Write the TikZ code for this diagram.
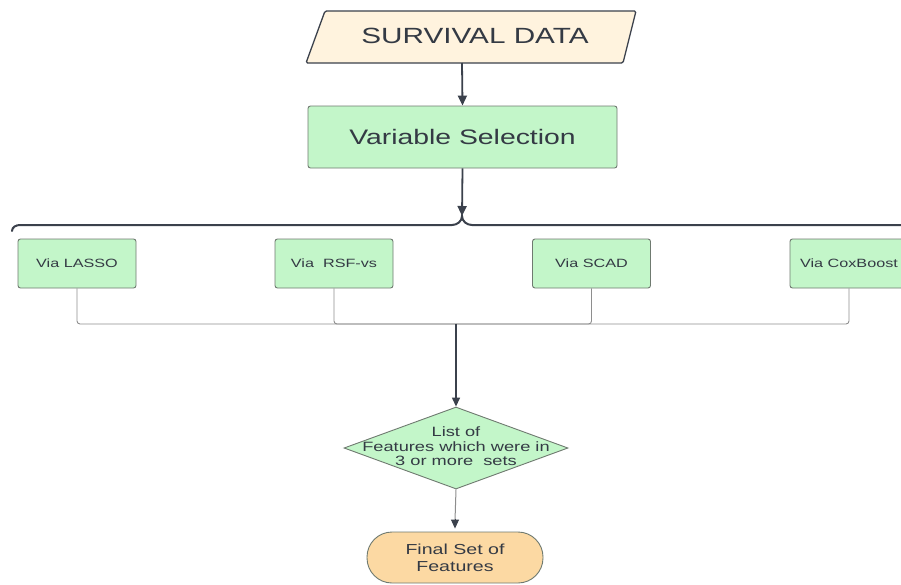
\documentclass[tikz,border=0pt]{standalone}
\usepackage{fontspec}
\setmainfont{Liberation Sans}
\newfontfamily\wide{Liberation Sans}[FakeStretch=1.35]
\usetikzlibrary{arrows.meta,shapes.geometric}
\definecolor{txt}{HTML}{343A44}
\definecolor{dark}{HTML}{3B414C}
\definecolor{gfill}{HTML}{C3F6C9}
\definecolor{gborder}{HTML}{6F7A70}
\definecolor{pfill}{HTML}{FFF3DE}
\definecolor{ofill}{HTML}{FCD9A3}
\definecolor{conn}{HTML}{8E8E8E}
\tikzset{
  gbox/.style={draw=gborder, line width=0.9pt, fill=gfill, rounded corners=2.5pt, minimum width=118pt, minimum height=49pt, inner sep=0pt, text=txt, font=\wide\fontsize{12}{14}\selectfont},
  darrow/.style={draw=dark, line width=1.8pt, -{Triangle[length=10pt,width=9pt]}},
  thinarrow/.style={draw=dark, line width=1.2pt, -{Triangle[length=9pt,width=8pt]}},
  connline/.style={draw=conn, line width=0.9pt, rounded corners=3pt},
}
\begin{document}
\begin{tikzpicture}[x=1pt,y=-1pt]
\useasboundingbox (0,0) rectangle (901,584);
\clip (0,0) rectangle (901,584);
\fill[white] (0,0) rectangle (901,584);

% Survival data parallelogram
\draw[draw=dark, line width=1.3pt, fill=pfill, rounded corners=1.5pt]
  (325,11) -- (636,11) -- (623,63) -- (306,63) -- cycle;
\node[text=txt, font=\wide\fontsize{22}{26}\selectfont, inner sep=0pt] (data) at (475,36) {SURVIVAL DATA};
\coordinate (databot) at (462,63);

% Variable selection
\node[draw=gborder, line width=0.9pt, fill=gfill, rounded corners=2.5pt, minimum width=309pt, minimum height=62pt, inner sep=0pt, text=txt, font=\wide\fontsize{21}{25}\selectfont] (vs) at (462.5,137) {Variable Selection};

\draw[darrow] (databot) -- (vs.north);

% Brace
\coordinate (cusp) at (462,216);
\draw[draw=dark, line width=2pt, line cap=round]
  (12,231) to[out=90,in=180] (20,225) -- (452,225)
  to[out=0,in=-90] (cusp)
  to[out=-90,in=180] (472,225) -- (910,225);
\draw[darrow] (vs.south) -- (cusp);

% Method boxes
\node[gbox] (lasso) at (77,263.5) {Via LASSO};
\node[gbox] (rsf) at (334,263.5) {Via\ \ RSF-vs};
\node[gbox] (scad) at (591.5,263.5) {Via SCAD};
\node[gbox] (cox) at (849,263.5) {Via CoxBoost};

\coordinate (merge) at (456,324);
\draw[connline] (lasso.south) |- (merge);
\draw[connline] (rsf.south) |- (merge);
\draw[connline] (scad.south) |- (merge);
\draw[connline] (cox.south) |- (merge);

% Diamond
\node[diamond, draw=gborder, line width=0.9pt, fill=gfill, aspect=2.73, minimum width=224pt, minimum height=82pt, inner sep=0pt] (dia) at (456,448) {};
\node[text=txt, font=\wide\fontsize{13.5}{14.5}\selectfont, align=center, inner sep=0pt] (diatext) at (456,446.5) {List of\\Features which were in\\3 or more\ \ sets};

\draw[thinarrow, line width=1.4pt] (merge) -- (dia.north);

% Final
\node[draw=gborder, line width=0.9pt, fill=ofill, rounded corners=25pt, minimum width=176pt, minimum height=51pt, inner sep=0pt, text=txt, font=\wide\fontsize{14.5}{17}\selectfont, align=center] (final) at (455,557.5) {Final Set of\\Features};

\coordinate (ftip) at ([yshift=3pt]final.north);
\draw[draw=conn, line width=1pt] (dia.south) -- ([yshift=8pt]ftip);
\draw[draw=dark, line width=1pt, -{Triangle[length=9pt,width=8pt]}] ([yshift=10pt]ftip) -- (ftip);
\end{tikzpicture}
\end{document}
